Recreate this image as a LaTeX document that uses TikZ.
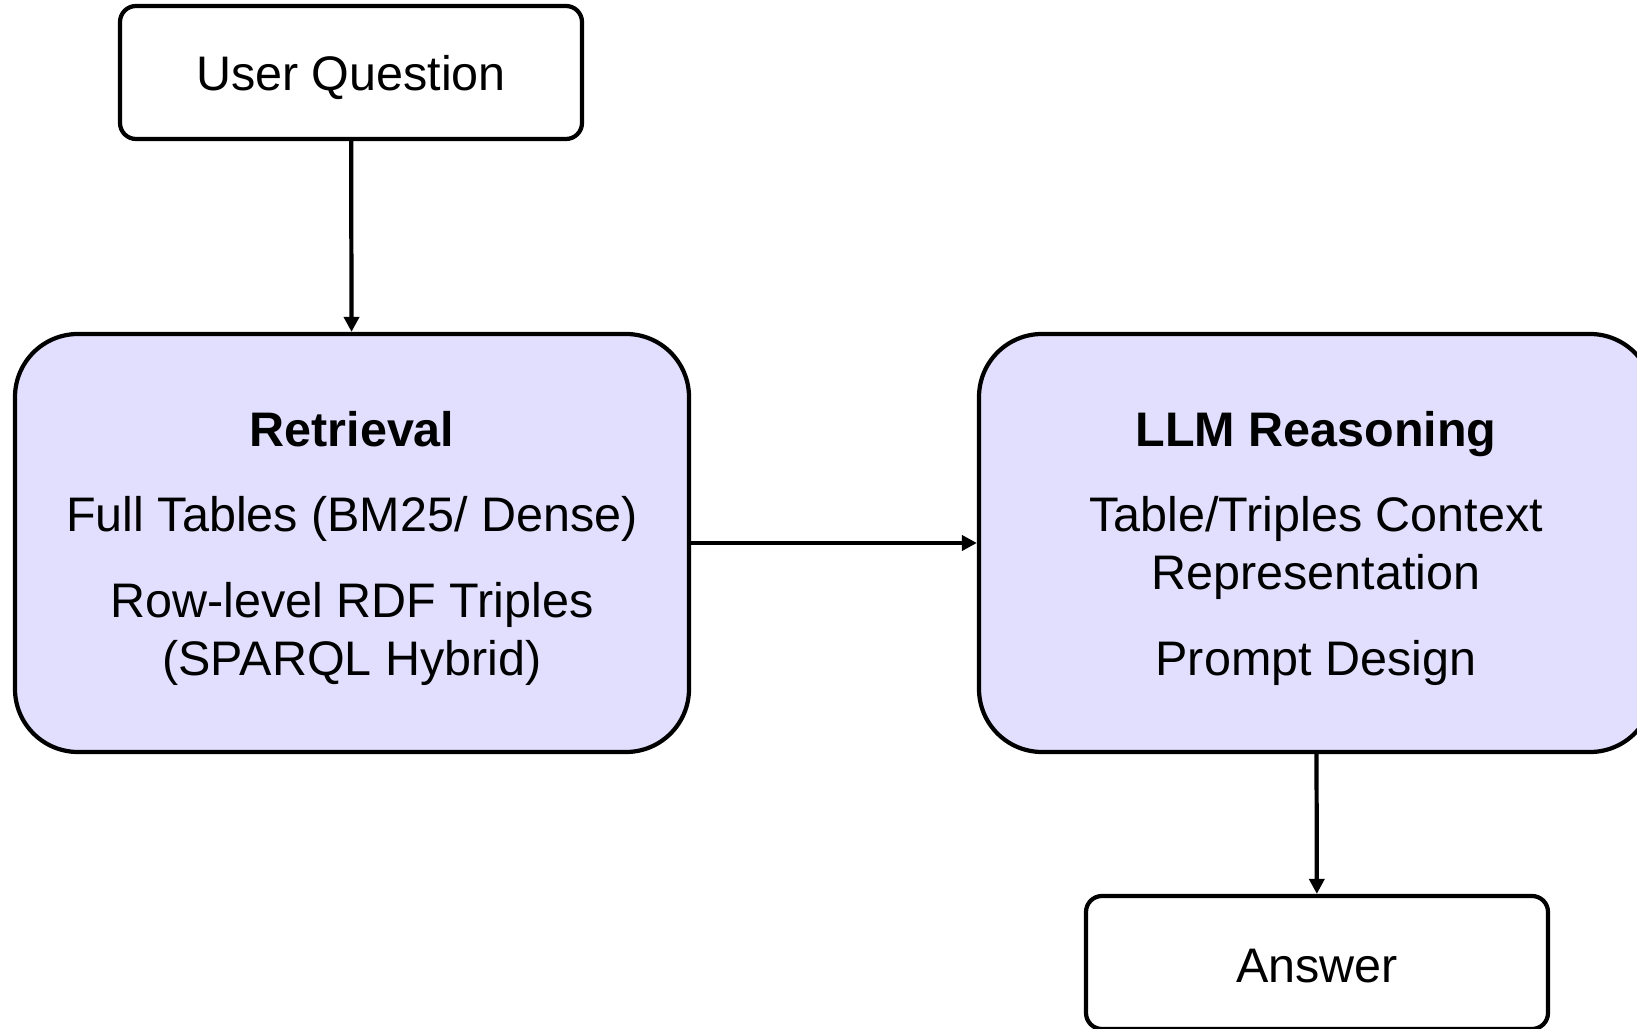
\documentclass[tikz,border=0pt]{standalone}
\usepackage{fontspec}
\setmainfont{Liberation Sans}
\usetikzlibrary{arrows.meta}

\definecolor{stagefill}{RGB}{225,223,253}
% bold first line of a stage box, with a little room above it
\newcommand{\stagehead}[1]{\rule{0pt}{13pt}\textbf{#1}}

\begin{document}
\begin{tikzpicture}[
    every node/.style={font=\fontsize{13.8}{16.4}\selectfont, align=center},
    io/.style={draw, line width=1.2pt, rounded corners=0.16cm,
               minimum width=4.62cm, minimum height=1.33cm,
               execute at begin node={\rule{0pt}{#1}}},
    io/.default=13pt,
    stage/.style={draw, line width=1.2pt, fill=stagefill, rounded corners=0.63cm,
                  minimum width=6.74cm, minimum height=4.18cm},
    flow/.style={line width=1.2pt, -{Triangle[length=1.5mm,width=1.5mm]}}
  ]
    \useasboundingbox (0,0) rectangle (16.37,-10.29);

    % input and output
    \node [io] (question) at (3.51,-0.725) {User Question};
    \node [io=11.3pt] (answer) at (13.17,-9.625) {Answer};

    % the two stages
    \node [stage] (retrieval) at (3.52,-5.43) {\stagehead{Retrieval}\\[8pt]
        Full Tables (BM25/ Dense)\\[8pt]
        Row-level RDF Triples\\(SPARQL Hybrid)};
    \node [stage] (reasoning) at (13.16,-5.43) {\stagehead{LLM Reasoning}\\[8pt]
        Table/Triples Context\\Representation\\[8pt]
        Prompt Design};

    \draw [flow] (question) -- (retrieval);
    \draw [flow] (retrieval) -- (reasoning);
    \draw [flow] (reasoning) -- (answer);
\end{tikzpicture}
\end{document}
